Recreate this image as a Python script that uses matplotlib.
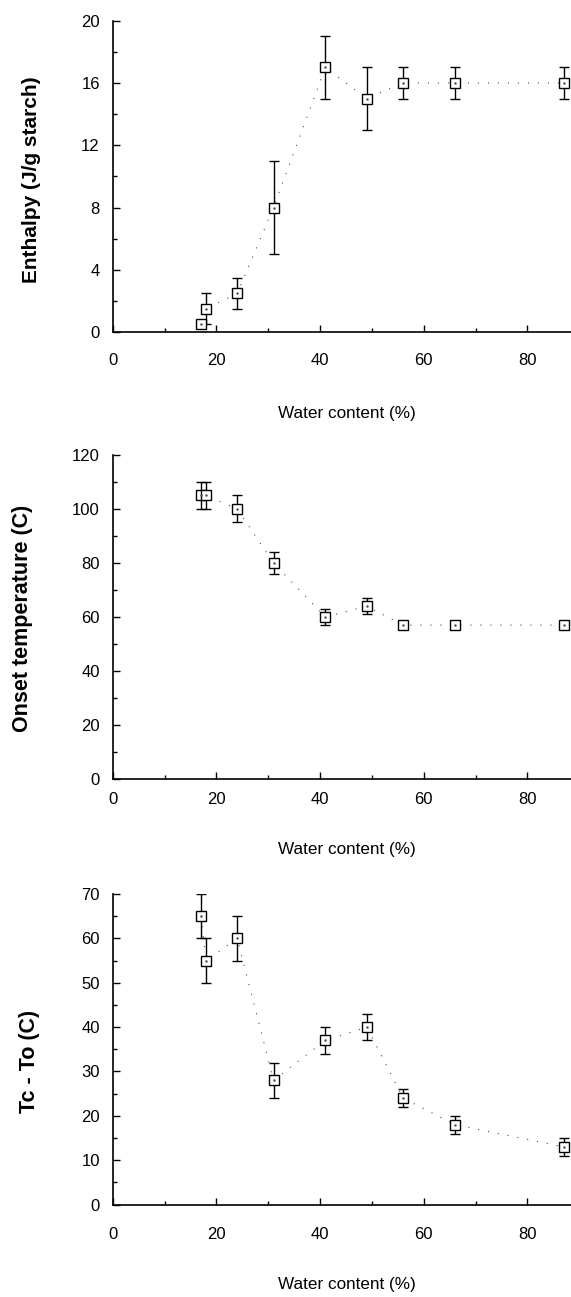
import numpy as np
import matplotlib.pyplot as plt
from matplotlib.ticker import MultipleLocator

# water content (%) for all three panels
water = [17, 18, 24, 31, 41, 49, 56, 66, 87]

enthalpy = [0.5, 1.5, 2.5, 8, 17, 15, 16, 16, 16]
enthalpy_err = [0, 1, 1, 3, 2, 2, 1, 1, 1]

onset = [105, 105, 100, 80, 60, 64, 57, 57, 57]
onset_err = [5, 5, 5, 4, 3, 3, 1, 1, 1]

tc_to = [65, 55, 60, 28, 37, 40, 24, 18, 13]
tc_to_err = [5, 5, 5, 4, 3, 3, 2, 2, 2]

plt.rcParams['font.family'] = ['Liberation Sans', 'DejaVu Sans']

fig = plt.figure(figsize=(5.71, 12.97), dpi=100)

panels = [
    # rect, y, err, ymax, step, ylabel, label size, ylabel xy, xlabel y, x tick pad
    ([0.1976, 0.7438, 0.8024, 0.2403], enthalpy, enthalpy_err, 20, 4,
     'Enthalpy (J/g starch)', 15, (-0.157, 0.489), -0.2365, 15),
    ([0.1976, 0.3994, 0.8024, 0.2498], onset, onset_err, 120, 20,
     'Onset temperature (C)', 15.5, (-0.174, 0.497), -0.194, 9.5),
    ([0.1976, 0.0713, 0.8024, 0.2394], tc_to, tc_to_err, 70, 10,
     'Tc - To (C)', 15.5, (-0.159, 0.462), -0.2335, 16),
]

for rect, vals, errs, ymax, step, ylab, ylsize, ylxy, xly, xpad in panels:
    ax = fig.add_axes(rect)
    ax.plot(water, vals, linestyle=(0, (1, 8)), color='0.3', linewidth=0.8, zorder=1)
    ax.errorbar(water, vals, yerr=errs, fmt='none', ecolor='black', elinewidth=1.0,
                capsize=3.3, capthick=1.0, zorder=2)
    ax.plot(water, vals, linestyle='none', marker='s', markersize=7,
            markerfacecolor='white', markeredgecolor='black', markeredgewidth=1.0, zorder=3)
    ax.plot(water, vals, linestyle='none', marker='.', markersize=1.5, color='0.3', zorder=4)

    ax.set_xlim(0, 88.4)
    ax.set_ylim(0, ymax)
    ax.xaxis.set_major_locator(MultipleLocator(20))
    ax.xaxis.set_minor_locator(MultipleLocator(10))
    ax.yaxis.set_major_locator(MultipleLocator(step))
    ax.yaxis.set_minor_locator(MultipleLocator(step / 2))

    for s in ['top', 'right']:
        ax.spines[s].set_visible(False)
    for s in ['left', 'bottom']:
        ax.spines[s].set_linewidth(1.2)

    ax.tick_params(which='both', direction='in', width=1.0, labelsize=12)
    ax.tick_params(which='major', length=5)
    ax.tick_params(which='minor', length=3)
    ax.tick_params(axis='y', pad=9.4)
    ax.tick_params(axis='x', pad=xpad)

    ax.set_ylabel(ylab, fontsize=ylsize, fontweight='bold')
    ax.yaxis.set_label_coords(*ylxy)
    ax.set_xlabel('Water content (%)', fontsize=12.3)
    ax.xaxis.set_label_coords(0.511, xly)

fig.savefig('out.png', dpi=100)
